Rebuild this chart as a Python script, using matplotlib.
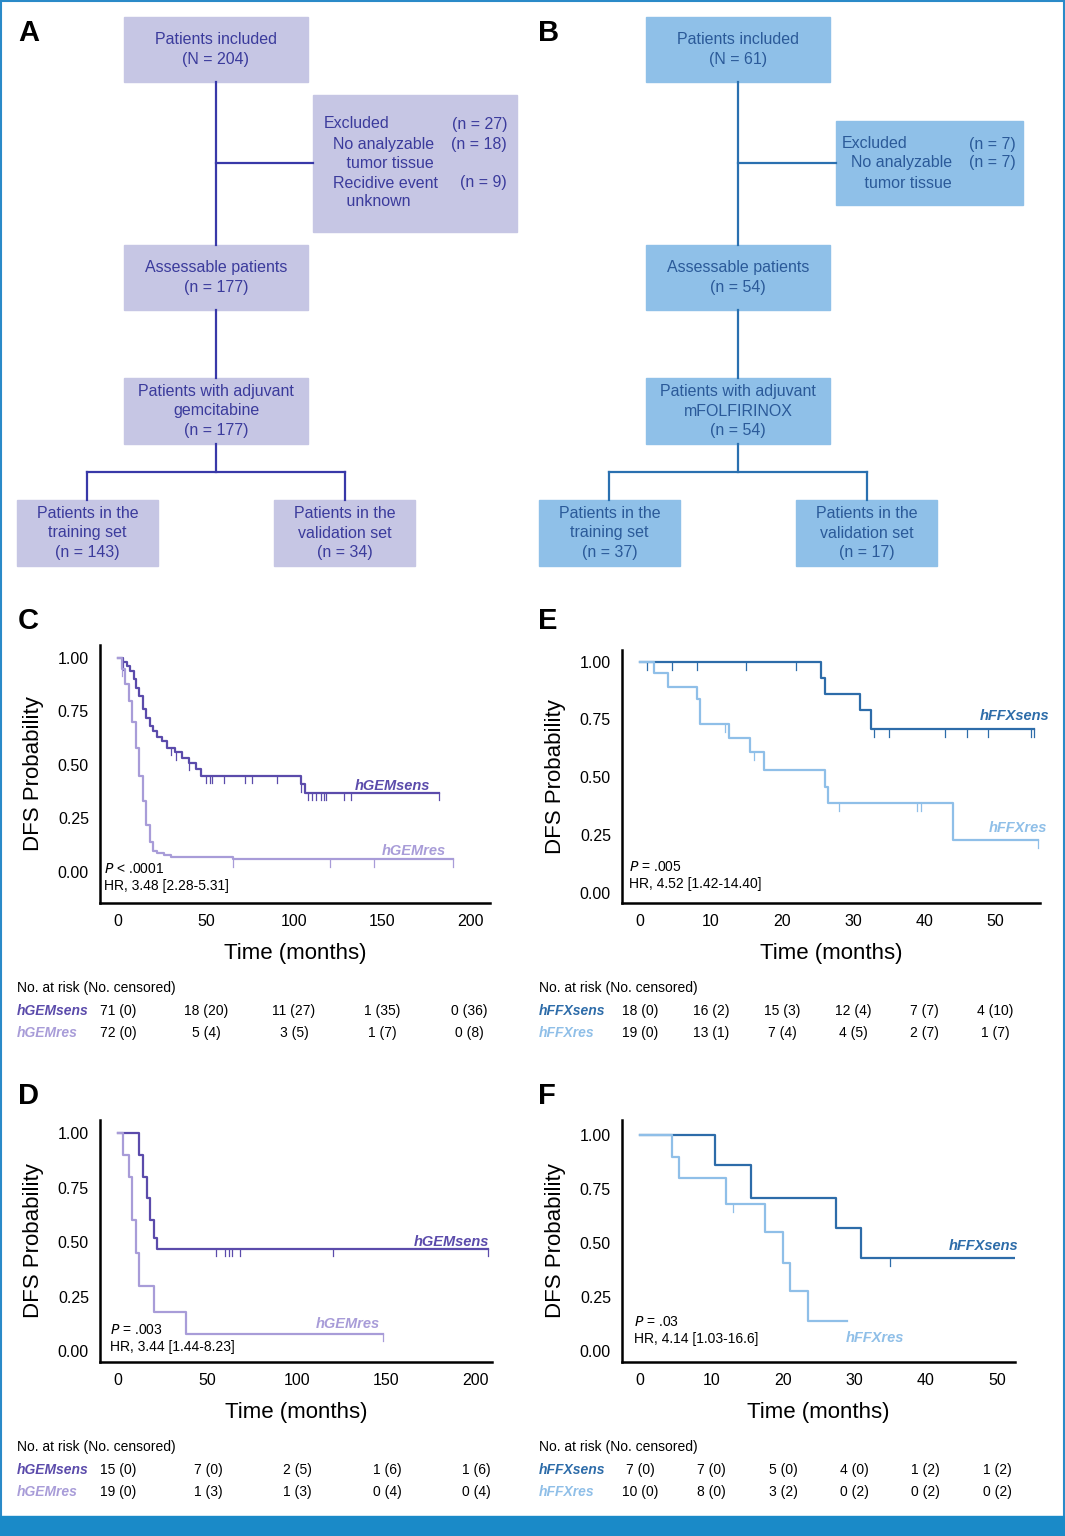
import matplotlib.pyplot as plt
from matplotlib.patches import Rectangle

W, H = 1065, 1536
fig = plt.figure(figsize=(W / 100, H / 100), dpi=100)
plt.rcParams['font.family'] = ['Liberation Sans', 'DejaVu Sans']

PUR_D, PUR_L = '#5b4bab', '#a89cd8'
BLU_D, BLU_L = '#2d6ca9', '#8fbfe8'
BOX_A, TXT_A = '#c6c6e4', '#3b3b9c'
BOX_B, TXT_B = '#8fc0e8', '#2b5a99'

# ---- KM data ----
c_sens_t = [0, 3, 5, 7, 9, 10, 12, 14, 16, 18, 20, 22, 25, 28, 32, 36, 40, 44, 47, 104, 106, 182]
c_sens_s = [1, .98, .96, .94, .9, .86, .82, .76, .72, .68, .66, .63, .61, .58, .56, .53, .51, .48, .45, .41, .37, .37]
c_sens_c = [3, 30, 33, 40, 50, 52, 53, 60, 72, 76, 90, 104, 108, 110, 112, 115, 117, 118, 128, 132, 182]
c_res_t = [0, 2, 4, 6, 8, 10, 12, 14, 16, 18, 20, 22, 26, 30, 40, 65, 190]
c_res_s = [1, .95, .88, .8, .7, .58, .45, .33, .22, .14, .1, .09, .08, .07, .07, .06, .06]
c_res_c = [2, 65, 120, 145, 190]

d_sens_t = [0, 12, 14, 16, 18, 20, 22, 207]
d_sens_s = [1, .9, .8, .7, .6, .52, .47, .47]
d_sens_c = [55, 60, 62, 64, 68, 120, 207]
d_res_t = [0, 3, 6, 8, 10, 12, 20, 38, 148]
d_res_s = [1, .9, .8, .6, .45, .3, .18, .08, .08]
d_res_c = [148]

e_sens_t = [0, 25.5, 26, 31, 32.5, 55.5]
e_sens_s = [1, .93, .86, .79, .71, .71]
e_sens_c = [1, 4.5, 8, 15, 22, 33, 35, 43, 46, 49, 55, 55.5]
e_res_t = [0, 2, 4, 8, 8.5, 12.5, 15.5, 17.5, 26, 26.5, 44, 56]
e_res_s = [1, .95, .89, .84, .73, .67, .61, .53, .46, .39, .23, .23]
e_res_c = [12, 16, 28, 39, 39.5, 56]

f_sens_t = [0, 10.5, 15.5, 27.5, 31, 53]
f_sens_s = [1, .86, .71, .57, .43, .43]
f_sens_c = [35, 53]
f_res_t = [0, 4.5, 5.5, 12, 17.5, 20, 21, 23.5, 29]
f_res_s = [1, .9, .8, .68, .55, .41, .28, .14, .14]
f_res_c = [13]

def px_axes(l, t, r, b):
    return fig.add_axes([l / W, 1 - b / H, (r - l) / W, (b - t) / H])

def km(ax, t, s, cens, col, lw):
    ax.step(t, s, where='post', color=col, lw=lw)
    for c in cens:
        # survival at censor time
        v = s[0]
        for ti, si in zip(t, s):
            if ti <= c:
                v = si
        ax.plot([c, c], [v, v - 0.035], color=col, lw=0.9)

def setup(ax, xlim, ylim, xt):
    ax.set_xlim(xlim); ax.set_ylim(ylim)
    for sp in ['top', 'right']:
        ax.spines[sp].set_visible(False)
    for sp in ['left', 'bottom']:
        ax.spines[sp].set_linewidth(1.8)
    ax.set_xticks(xt)
    ax.set_yticks([0, .25, .5, .75, 1])
    ax.set_yticklabels(['0.00', '0.25', '0.50', '0.75', '1.00'])
    ax.tick_params(length=0, labelsize=11.5, pad=8)
    ax.set_ylabel('DFS Probability', fontsize=16, labelpad=10)
    ax.set_xlabel('Time (months)', fontsize=16, labelpad=10)
    ax.patch.set_alpha(0)

axC = px_axes(100, 645, 490, 903)
setup(axC, (-10.3, 211), (-0.145, 1.06), [0, 50, 100, 150, 200])
km(axC, c_sens_t, c_sens_s, c_sens_c, PUR_D, 1.6)
km(axC, c_res_t, c_res_s, c_res_c, PUR_L, 1.6)

axD = px_axes(100, 1120, 492, 1362)
setup(axD, (-10, 209), (-0.05, 1.06), [0, 50, 100, 150, 200])
km(axD, d_sens_t, d_sens_s, d_sens_c, PUR_D, 1.6)
km(axD, d_res_t, d_res_s, d_res_c, PUR_L, 1.6)

axE = px_axes(622, 650, 1040, 903)
setup(axE, (-2.5, 56.3), (-0.043, 1.05), [0, 10, 20, 30, 40, 50])
km(axE, e_sens_t, e_sens_s, e_sens_c, BLU_D, 1.6)
km(axE, e_res_t, e_res_s, e_res_c, BLU_L, 1.6)

axF = px_axes(622, 1120, 1015, 1362)
setup(axF, (-2.5, 52.5), (-0.05, 1.07), [0, 10, 20, 30, 40, 50])
km(axF, f_sens_t, f_sens_s, f_sens_c, BLU_D, 1.6)
km(axF, f_res_t, f_res_s, f_res_c, BLU_L, 1.6)

# ---- overlay in pixel coords ----
ov = fig.add_axes([0, 0, 1, 1], zorder=-1)
ov.set_xlim(0, W); ov.set_ylim(H, 0); ov.axis('off')
top = fig.add_axes([0, 0, 1, 1], zorder=5)
top.set_xlim(0, W); top.set_ylim(H, 0); top.axis('off'); top.patch.set_alpha(0)

ov.add_patch(Rectangle((1, 1), W - 2, H - 2, fill=False, ec='#2a8ac8', lw=1.5))
ov.add_patch(Rectangle((0, 1516), W, 20, color='#1a8ac8'))

def box(x0, y0, x1, y1, fc, lines, tc, ha='center', xs=None):
    ov.add_patch(Rectangle((x0, y0), x1 - x0, y1 - y0, color=fc))
    n = len(lines)
    for i, ln in enumerate(lines):
        y = (y0 + y1) / 2 + (i - (n - 1) / 2) * 19.5
        ov.text((x0 + x1) / 2, y, ln, color=tc, fontsize=11.5, ha='center', va='center')

def line(xs, ys, c):
    ov.plot(xs, ys, color=c, lw=1.6)

# flowchart A
ca = '#3838a8'
line([216, 216], [82, 245], ca); line([216, 313], [163, 163], ca)
line([216, 216], [310, 378], ca); line([216, 216], [444, 472], ca)
line([87, 345], [472, 472], ca); line([87, 87], [472, 500], ca); line([345, 345], [472, 500], ca)
box(124, 17, 308, 82, BOX_A, ['Patients included', '(N = 204)'], TXT_A)
ov.add_patch(Rectangle((313, 95), 204, 137, color=BOX_A))
for y, l, r in [(124, 'Excluded', '(n = 27)'), (144, '  No analyzable', '(n = 18)'),
                (163, '     tumor tissue', ''), (183, '  Recidive event', '(n = 9)'), (202, '     unknown', '')]:
    ov.text(324, y, l, color=TXT_A, fontsize=11.5, va='center')
    ov.text(507, y, r, color=TXT_A, fontsize=11.5, va='center', ha='right')
box(124, 245, 308, 310, BOX_A, ['Assessable patients', '(n = 177)'], TXT_A)
box(124, 378, 308, 444, BOX_A, ['Patients with adjuvant', 'gemcitabine', '(n = 177)'], TXT_A)
box(17, 500, 158, 566, BOX_A, ['Patients in the', 'training set', '(n = 143)'], TXT_A)
box(274, 500, 415, 566, BOX_A, ['Patients in the', 'validation set', '(n = 34)'], TXT_A)

# flowchart B
cb = '#2a70b0'
line([738, 738], [82, 245], cb); line([738, 836], [163, 163], cb)
line([738, 738], [310, 378], cb); line([738, 738], [444, 472], cb)
line([609, 867], [472, 472], cb); line([609, 609], [472, 500], cb); line([867, 867], [472, 500], cb)
box(646, 17, 830, 82, BOX_B, ['Patients included', '(N = 61)'], TXT_B)
ov.add_patch(Rectangle((836, 121), 187, 84, color=BOX_B))
for y, l, r in [(144, 'Excluded', '(n = 7)'), (163, '  No analyzable', '(n = 7)'), (183, '     tumor tissue', '')]:
    ov.text(842, y, l, color=TXT_B, fontsize=11.5, va='center')
    ov.text(1016, y, r, color=TXT_B, fontsize=11.5, va='center', ha='right')
box(646, 245, 830, 310, BOX_B, ['Assessable patients', '(n = 54)'], TXT_B)
box(646, 378, 830, 444, BOX_B, ['Patients with adjuvant', 'mFOLFIRINOX', '(n = 54)'], TXT_B)
box(539, 500, 680, 566, BOX_B, ['Patients in the', 'training set', '(n = 37)'], TXT_B)
box(796, 500, 937, 566, BOX_B, ['Patients in the', 'validation set', '(n = 17)'], TXT_B)

for lab, x, y in [('A', 18, 33), ('B', 538, 33), ('C', 18, 621), ('E', 538, 621), ('D', 18, 1096), ('F', 538, 1096)]:
    top.text(x, y, lab, fontsize=21, fontweight='bold', va='center')

# curve labels and stats
def lab(x, y, s, c):
    top.text(x, y, s, color=c, fontsize=10.5, fontweight='bold', style='italic', ha='right', va='center')
lab(430, 786, 'hGEMsens', PUR_D); lab(446, 851, 'hGEMres', PUR_L)
lab(489, 1242, 'hGEMsens', PUR_D); lab(380, 1324, 'hGEMres', PUR_L)
lab(1049, 716, 'hFFXsens', BLU_D); lab(1047, 828, 'hFFXres', BLU_L)
lab(1018, 1246, 'hFFXsens', BLU_D); lab(904, 1338, 'hFFXres', BLU_L)

def stats(x, y, p, hr):
    top.text(x, y, p, fontsize=10, va='center')
    top.text(x, y + 17, hr, fontsize=10, va='center')
stats(104, 869, r'$P$ < .0001', 'HR, 3.48 [2.28-5.31]')
stats(110, 1330, r'$P$ = .003', 'HR, 3.44 [1.44-8.23]')
stats(629, 867, r'$P$ = .005', 'HR, 4.52 [1.42-14.40]')
stats(634, 1322, r'$P$ = .03', 'HR, 4.14 [1.03-16.6]')

# risk tables
c_risk_sens = ['71 (0)', '18 (20)', '11 (27)', '1 (35)', '0 (36)']
c_risk_res = ['72 (0)', '5 (4)', '3 (5)', '1 (7)', '0 (8)']
d_risk_sens = ['15 (0)', '7 (0)', '2 (5)', '1 (6)', '1 (6)']
d_risk_res = ['19 (0)', '1 (3)', '1 (3)', '0 (4)', '0 (4)']
e_risk_sens = ['18 (0)', '16 (2)', '15 (3)', '12 (4)', '7 (7)', '4 (10)']
e_risk_res = ['19 (0)', '13 (1)', '7 (4)', '4 (5)', '2 (7)', '1 (7)']
f_risk_sens = ['7 (0)', '7 (0)', '5 (0)', '4 (0)', '1 (2)', '1 (2)']
f_risk_res = ['10 (0)', '8 (0)', '3 (2)', '0 (2)', '0 (2)', '0 (2)']

def table(x0, y0, names, cols, xs, rows):
    top.text(x0, y0, 'No. at risk (No. censored)', fontsize=10, va='center')
    for k, (nm, c, row) in enumerate(zip(names, cols, rows)):
        y = y0 + 23 + k * 22
        top.text(x0, y, nm, color=c, fontsize=10, fontweight='bold', style='italic', va='center')
        for x, v in zip(xs, row):
            top.text(x, y, v, fontsize=10, va='center', ha='center')
table(17, 988, ['hGEMsens', 'hGEMres'], [PUR_D, PUR_L], [118, 206, 294, 382, 469], [c_risk_sens, c_risk_res])
table(17, 1447, ['hGEMsens', 'hGEMres'], [PUR_D, PUR_L], [118, 208, 297, 387, 476], [d_risk_sens, d_risk_res])
table(539, 988, ['hFFXsens', 'hFFXres'], [BLU_D, BLU_L], [640, 711, 782, 853, 924, 995], [e_risk_sens, e_risk_res])
table(539, 1447, ['hFFXsens', 'hFFXres'], [BLU_D, BLU_L], [640, 711, 783, 854, 925, 997], [f_risk_sens, f_risk_res])

fig.savefig('out.png', dpi=100)
